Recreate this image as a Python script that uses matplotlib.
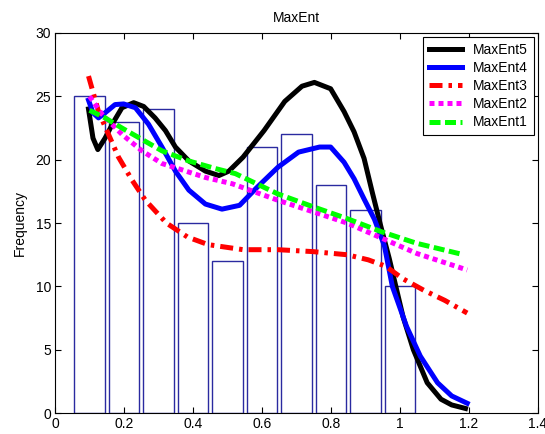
import matplotlib
matplotlib.use("Agg")
import matplotlib.pyplot as plt

plt.rcParams['font.family'] = ['Liberation Sans', 'DejaVu Sans']

# histogram data
bin_centers = [0.1, 0.2, 0.3, 0.4, 0.5, 0.6, 0.7, 0.8, 0.9, 1.0]
counts = [25, 23, 24, 15, 12, 21, 22, 18, 16, 10]

# MaxEnt5 (black)
x5 = [0.097, 0.11, 0.124, 0.145, 0.17, 0.194, 0.228, 0.257, 0.29, 0.32, 0.349,
      0.388, 0.436, 0.475, 0.504, 0.545, 0.606, 0.666, 0.716, 0.752, 0.799,
      0.838, 0.867, 0.896, 0.92, 0.944, 0.969, 1.009, 1.039, 1.079, 1.119,
      1.15, 1.19]
y5 = [24.0, 21.7, 20.8, 21.7, 23.0, 24.1, 24.5, 24.2, 23.3, 22.3, 21.0,
      19.9, 19.1, 18.75, 19.1, 20.2, 22.3, 24.6, 25.8, 26.1, 25.6,
      23.8, 22.2, 20.1, 17.4, 14.8, 12.2, 7.6, 5.0, 2.4, 1.1,
      0.65, 0.37]

# MaxEnt4 (blue)
x4 = [0.097, 0.11, 0.126, 0.145, 0.174, 0.199, 0.233, 0.271, 0.31, 0.349,
      0.388, 0.436, 0.484, 0.535, 0.585, 0.646, 0.706, 0.767, 0.799, 0.838,
      0.867, 0.896, 0.926, 0.955, 0.978, 1.019, 1.059, 1.109, 1.15, 1.195]
y4 = [24.7, 23.7, 23.3, 23.7, 24.35, 24.4, 24.1, 22.8, 21.0, 19.1,
      17.6, 16.5, 16.1, 16.4, 17.8, 19.4, 20.6, 21.0, 21.0, 19.8,
      18.5, 16.9, 15.3, 13.2, 10.0, 6.85, 4.5, 2.4, 1.36, 0.78]

# MaxEnt3 (red)
x3 = [0.097, 0.126, 0.155, 0.184, 0.223, 0.262, 0.323, 0.384, 0.444, 0.545,
      0.646, 0.747, 0.847, 0.908, 0.958, 1.009, 1.069, 1.13, 1.195]
y3 = [26.6, 23.8, 22.0, 20.2, 18.4, 16.8, 15.0, 13.9, 13.3, 12.9,
      12.9, 12.75, 12.5, 12.1, 11.6, 10.6, 9.7, 8.9, 7.9]

# MaxEnt2 (magenta)
x2 = [0.1, 0.136, 0.194, 0.252, 0.31, 0.368, 0.436, 0.514, 0.646, 0.747,
      0.847, 0.948, 1.049, 1.195]
y2 = [25.0, 23.6, 22.0, 20.7, 19.7, 19.2, 18.6, 18.1, 16.8, 15.9,
      15.0, 13.8, 12.6, 11.3]

# MaxEnt1 (green)
x1 = [0.1, 0.145, 0.194, 0.252, 0.31, 0.388, 0.465, 0.523, 0.646, 0.747,
      0.847, 0.948, 1.049, 1.185]
y1 = [23.9, 23.3, 22.5, 21.6, 20.7, 19.9, 19.3, 18.9, 17.3, 16.3,
      15.35, 14.3, 13.4, 12.5]

fig = plt.figure(figsize=(5.45, 4.34), dpi=100)
ax = fig.add_axes([0.101, 0.048, 0.886, 0.876])

# histogram bars (outline only)
ax.bar(bin_centers, counts, width=0.088, facecolor='none',
       edgecolor='#2a2aa0', linewidth=1.0)

lw = 3.6
ax.plot(x5, y5, '-', color='black', lw=lw, label='MaxEnt5')
ax.plot(x4, y4, '-', color='#0000ff', lw=lw, label='MaxEnt4')
ax.plot(x3, y3, '-.', color='#ff0000', lw=lw, label='MaxEnt3',
        dashes=(2.6, 1.2, 0.7, 1.2))
ax.plot(x2, y2, ':', color='#ff00ff', lw=lw, label='MaxEnt2',
        dashes=(1.0, 0.8))
ax.plot(x1, y1, '--', color='#00ff00', lw=lw, label='MaxEnt1',
        dashes=(2.2, 0.9))

ax.set_xlim(0, 1.4)
ax.set_ylim(0, 30)
ax.set_xticks([0, 0.2, 0.4, 0.6, 0.8, 1.0, 1.2, 1.4])
ax.set_xticklabels(['0', '0.2', '0.4', '0.6', '0.8', '1', '1.2', '1.4'])
ax.set_yticks([0, 5, 10, 15, 20, 25, 30])
ax.tick_params(direction='in', top=True, right=True, length=4,
               labelsize=10, pad=3)

ax.set_ylabel('Frequency', fontsize=10, labelpad=6)
ax.set_title('MaxEnt', fontsize=10, pad=8)

leg = ax.legend(loc='upper right', fontsize=10, frameon=True, fancybox=False,
                edgecolor='black', framealpha=1, handlelength=2.4,
                borderaxespad=0.3, labelspacing=0.3, borderpad=0.4)
leg.get_frame().set_linewidth(0.8)

fig.savefig('out.png', dpi=100)
